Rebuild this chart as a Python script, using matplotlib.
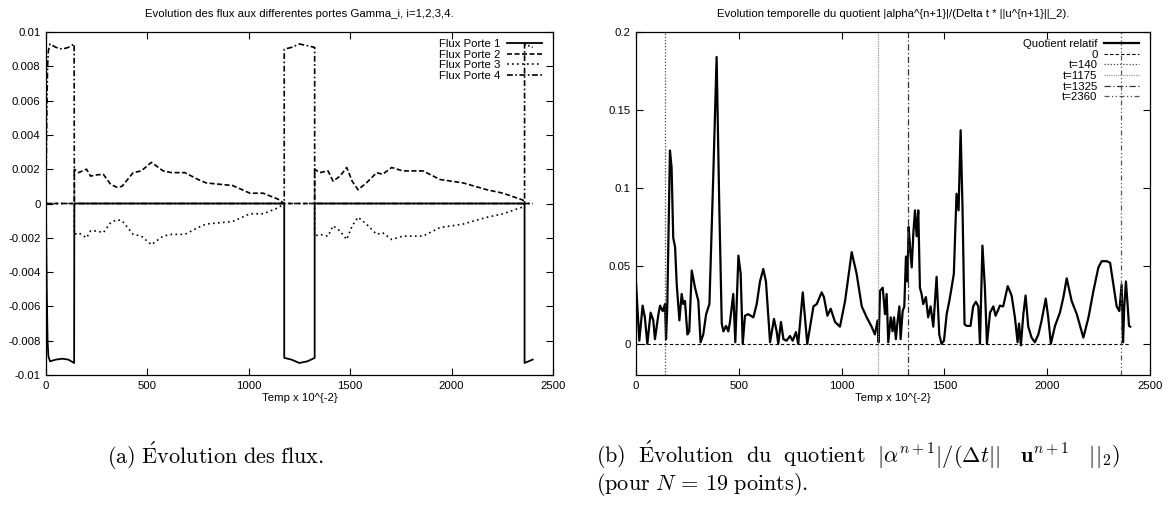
import matplotlib
matplotlib.use("Agg")
import matplotlib.pyplot as plt
from matplotlib.ticker import FixedLocator, FuncFormatter

plt.rcParams['font.family'] = ['Liberation Sans', 'DejaVu Sans']
plt.rcParams['mathtext.fontset'] = 'cm'

# --- flux aux portes (gauche) ---
t_p1 = [0, 4, 8, 12, 20, 50, 80, 110, 139, 140, 1175, 1175, 1210, 1250, 1290, 1325, 1325,
        2360, 2360, 2380, 2400]
flux_p1 = [0, -0.005, -0.008, -0.0089, -0.0092, -0.0091, -0.00905, -0.0091, -0.0093, 0, 0,
           -0.0090, -0.0091, -0.0093, -0.0092, -0.0090, 0, 0, -0.0093, -0.0092, -0.0091]

t_p4 = [0, 4, 8, 12, 20, 50, 80, 110, 139, 140, 1175, 1175, 1210, 1250, 1290, 1325, 1325,
        2360, 2360, 2380, 2400]
flux_p4 = [0, 0.005, 0.008, 0.0089, 0.0093, 0.0091, 0.0090, 0.0091, 0.0093, 0, 0,
           0.0090, 0.0091, 0.0093, 0.0092, 0.0091, 0, 0, 0.0093, 0.0092, 0.0091]

t_p23 = [0, 140, 140, 160, 200, 220, 250, 283, 320, 350, 375, 430, 470, 520, 578, 620, 685,
         750, 790, 875, 920, 1006, 1071, 1145, 1175, 1325, 1325, 1350, 1391, 1416, 1450,
         1483, 1510, 1539, 1580, 1631, 1660, 1705, 1760, 1859, 1943, 2057, 2175, 2254,
         2352, 2360, 2400]
flux_p2 = [0, 0, 0.0020, 0.0018, 0.0020, 0.0016, 0.00167, 0.0017, 0.0011, 0.00095, 0.0010,
           0.0018, 0.0019, 0.0024, 0.0019, 0.0018, 0.0018, 0.0014, 0.0012, 0.0011, 0.00105,
           0.0006, 0.0006, 0.00025, 0, 0, 0.0020, 0.0018, 0.0019, 0.0013, 0.0016, 0.0021,
           0.0013, 0.0008, 0.0012, 0.0018, 0.0017, 0.0021, 0.0019, 0.0019, 0.0014, 0.0012,
           0.0008, 0.0006, 0.0002, 0, 0]
flux_p3 = [0, 0, -0.0018, -0.0017, -0.0020, -0.0016, -0.0016, -0.0017, -0.0011, -0.00095,
           -0.0010, -0.0018, -0.0019, -0.0024, -0.0019, -0.0018, -0.0018, -0.0014, -0.0012,
           -0.0011, -0.00105, -0.0006, -0.0006, -0.00025, 0, 0, -0.0019, -0.0018, -0.0019,
           -0.0013, -0.0016, -0.0021, -0.0013, -0.0008, -0.0012, -0.0018, -0.0017, -0.0021,
           -0.0019, -0.0019, -0.0014, -0.0012, -0.0008, -0.0006, -0.0002, 0, 0]

# --- quotient relatif (droite) ---
t_q = [0, 16, 32, 43, 55, 71, 84, 92, 109, 117, 130, 141, 146, 152, 165, 173, 181, 190, 198,
       211, 222, 230, 238, 250, 259, 271, 287, 303, 314, 327, 341, 357, 376, 392, 405, 417,
       425, 438, 449, 457, 473, 483, 498, 509, 519, 530, 546, 571, 587, 603, 619, 632, 652,
       671, 684, 692, 705, 717, 732, 749, 762, 778, 789, 811, 833, 863, 879, 903, 914, 931,
       947, 968, 992, 1017, 1049, 1073, 1098, 1122, 1146, 1162, 1175, 1180, 1187, 1200, 1211,
       1219, 1227, 1239, 1248, 1255, 1264, 1271, 1281, 1287, 1297, 1305, 1313, 1320, 1326,
       1333, 1341, 1349, 1357, 1365, 1373, 1381, 1389, 1397, 1410, 1421, 1433, 1446, 1462,
       1475, 1486, 1498, 1511, 1524, 1535, 1546, 1559, 1569, 1579, 1588, 1598, 1608, 1627,
       1640, 1653, 1665, 1673, 1685, 1697, 1707, 1722, 1738, 1749, 1759, 1770, 1786, 1808,
       1827, 1843, 1856, 1863, 1872, 1884, 1895, 1908, 1924, 1940, 1957, 1973, 1993, 2005,
       2018, 2038, 2062, 2079, 2095, 2119, 2144, 2176, 2201, 2225, 2249, 2265, 2289, 2306,
       2322, 2338, 2351, 2362, 2369, 2375, 2383, 2391, 2398, 2404]
quotient = [0.039, 0.002, 0.0245, 0.017, 0.0, 0.020, 0.015, 0.003, 0.019, 0.0245, 0.021,
            0.0255, 0.003, 0.024, 0.124, 0.113, 0.068, 0.062, 0.038, 0.015, 0.032, 0.0255,
            0.0275, 0.006, 0.008, 0.047, 0.036, 0.0275, 0.001, 0.006, 0.019, 0.0255, 0.109,
            0.184, 0.088, 0.013, 0.008, 0.0115, 0.008, 0.014, 0.032, 0.001, 0.0566, 0.045,
            0.0, 0.018, 0.019, 0.017, 0.0255, 0.040, 0.048, 0.040, 0.001, 0.016, 0.008, 0.0,
            0.014, 0.003, 0.002, 0.005, 0.002, 0.0075, 0.0, 0.033, 0.0, 0.024, 0.0255, 0.033,
            0.030, 0.018, 0.0225, 0.014, 0.011, 0.0275, 0.0588, 0.045, 0.024, 0.017, 0.011,
            0.006, 0.015, 0.001, 0.034, 0.036, 0.019, 0.032, 0.001, 0.017, 0.008, 0.017,
            0.003, 0.013, 0.024, 0.003, 0.021, 0.024, 0.056, 0.040, 0.075, 0.062, 0.049,
            0.071, 0.0856, 0.069, 0.0856, 0.036, 0.032, 0.0255, 0.030, 0.017, 0.024, 0.011,
            0.043, 0.006, 0.0, 0.002, 0.019, 0.0275, 0.036, 0.045, 0.0963, 0.0856, 0.137,
            0.088, 0.0125, 0.0115, 0.0115, 0.024, 0.027, 0.024, 0.0, 0.063, 0.036, 0.0, 0.020,
            0.024, 0.018, 0.021, 0.0245, 0.024, 0.037, 0.031, 0.017, 0.001, 0.013, -0.001,
            0.019, 0.031, 0.011, 0.004, 0.001, 0.006, 0.015, 0.029, 0.017, 0.0, 0.0115, 0.020,
            0.030, 0.042, 0.0275, 0.019, 0.004, 0.017, 0.034, 0.049, 0.053, 0.053, 0.052,
            0.038, 0.024, 0.021, 0.038, 0.001, 0.024, 0.040, 0.0255, 0.0115, 0.011]
t_zero = [0, 2400]
zero = [0, 0]
t_marks = [140, 1175, 1325, 2360]
mark_labels = ['t=140', 't=1175', 't=1325', 't=2360']

x_ticks = [0, 500, 1000, 1500, 2000, 2500]
y_ticks_flux = [-0.01, -0.008, -0.006, -0.004, -0.002, 0, 0.002, 0.004, 0.006, 0.008, 0.01]
y_ticks_q = [0, 0.05, 0.1, 0.15, 0.2]

fs = 8.2
fig = plt.figure(figsize=(11.75, 5.08), dpi=100)
ax1 = fig.add_axes([0.0391, 0.2618, 0.4315, 0.6752])
ax2 = fig.add_axes([0.5413, 0.2618, 0.4374, 0.6752])


def style(ax, yticks):
    ax.set_xlim(0, 2500)
    ax.xaxis.set_major_locator(FixedLocator(x_ticks))
    ax.yaxis.set_major_locator(FixedLocator(yticks))
    ax.xaxis.set_major_formatter(FuncFormatter(lambda v, p: '%g' % v))
    ax.yaxis.set_major_formatter(FuncFormatter(lambda v, p: '%g' % v))
    ax.tick_params(direction='in', length=5, width=0.8, labelsize=fs, top=True, right=True,
                   pad=4)
    for s in ax.spines.values():
        s.set_linewidth(0.9)
    ax.set_xlabel('Temp x 10^{-2}', fontsize=fs, labelpad=2)


leg_kw = dict(loc='upper right', bbox_to_anchor=(1, 1.012), frameon=False, fontsize=fs,
              markerfirst=False, handlelength=3.0, handletextpad=0.6, labelspacing=0.05,
              borderaxespad=0.9, borderpad=0.1)

# gauche
ax1.plot(t_p1, flux_p1, color='k', lw=1.3, label='Flux Porte 1')
ax1.plot(t_p23, flux_p2, color='k', lw=1.2, ls=(0, (3, 1.5)), label='Flux Porte 2')
ax1.plot(t_p23, flux_p3, color='k', lw=1.2, ls=(0, (1, 2)), label='Flux Porte 3')
ax1.plot(t_p4, flux_p4, color='k', lw=1.2, ls=(0, (3.5, 1.5, 1, 1.5)), label='Flux Porte 4')
ax1.set_ylim(-0.01, 0.01)
style(ax1, y_ticks_flux)
ax1.set_title('Evolution des flux aux differentes portes Gamma_i, i=1,2,3,4.', fontsize=fs, pad=11)
ax1.legend(**leg_kw)

# droite
ax2.plot(t_q, quotient, color='k', lw=1.6, label='Quotient relatif')
ax2.plot(t_zero, zero, color='k', lw=0.8, ls=(0, (3, 2)), label='0')
mark_styles = [(0, (1, 1.5)), (0, (1, 0.8)), (0, (5, 2, 1, 2)), (0, (4, 2, 1, 2, 1, 2))]
mark_colors = ['#444444', '#999999', '#333333', '#555555']
for tm, lab, st, c in zip(t_marks, mark_labels, mark_styles, mark_colors):
    ax2.axvline(tm, color=c, lw=0.9, ls=st, label=lab)
ax2.set_ylim(-0.02, 0.2)
style(ax2, y_ticks_q)
ax2.set_title('Evolution temporelle du quotient |alpha^{n+1}|/(Delta t * ||u^{n+1}||_2).',
              fontsize=fs, pad=11)
ax2.legend(**leg_kw)

# légendes des sous-figures
cap = 16
fig.text(0.091, 0.102, r"$\mathrm{(a)\ \acute{E}volution\ des\ flux.}$", fontsize=cap, va='center')
fig.text(0.507, 0.104,
         r"$\mathrm{(b)\ \ \acute{E}volution\ \ du\ \ quotient\ \ }|\alpha^{n+1}|/(\Delta t||\ \ \ \mathbf{u}^{n+1}\ \ \ ||_2)$",
         fontsize=cap, va='center')
fig.text(0.507, 0.046, r"$\mathrm{(pour\ }N\,=\,19\mathrm{\ points).}$", fontsize=cap, va='center')

fig.savefig('out.png', dpi=100)
